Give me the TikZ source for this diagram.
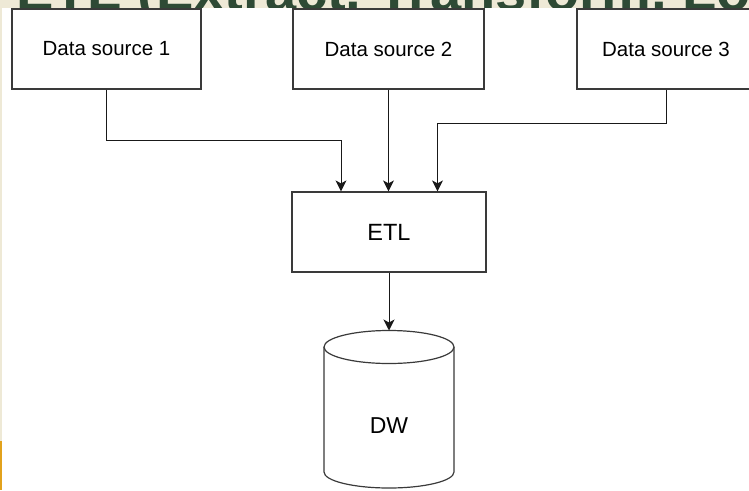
\documentclass[tikz,border=0pt]{standalone}
\usepackage{fontspec}
\setmainfont{Liberation Sans}
\usetikzlibrary{arrows.meta}
\definecolor{cream}{HTML}{EEE9D6}
\definecolor{titlegreen}{HTML}{2E4A35}
\definecolor{barorange}{HTML}{E2A21C}
\definecolor{boxline}{HTML}{3A3A3A}
\tikzset{
  box/.style={draw=boxline, line width=1.2pt, fill=white, minimum height=80pt, inner sep=0pt, font=\fontsize{20.5}{24}\selectfont},
  arr/.style={draw=black!90, line width=1pt, -{Stealth[length=11pt,width=11pt,inset=3pt]}},
}
\begin{document}
\begin{tikzpicture}[x=1pt,y=-1pt]
\useasboundingbox (0,0) rectangle (749,490);
% slide background and partly hidden title
\fill[cream] (0,0) rectangle (749,490);
\node[anchor=base west, inner sep=0pt, text=titlegreen, font=\bfseries\fontsize{56}{60}\selectfont] (title) at (16,10.5) {ETL (Extract, Transform, Load)};
\fill[white] (2,8) rectangle (749,490);
\fill[barorange] (0,441) rectangle (1.5,490);
% source boxes
\node[box, minimum width=189pt] (ds1) at (106.5,49) {Data source 1};
\node[box, minimum width=191pt] (ds2) at (388.5,49) {Data source 2};
\node[box, minimum width=178pt] (ds3) at (666,49) {Data source 3};
% ETL box
\node[box, minimum width=194pt, font=\fontsize{23.5}{28}\selectfont] (etl) at (389,232) {ETL};
% DW cylinder
\draw[boxline, line width=1.2pt, fill=white]
  (324,347) -- (324,472) arc[start angle=180, end angle=0, x radius=65, y radius=16] -- (454,347);
\draw[boxline, line width=1.2pt, fill=white] (389,347) ellipse[x radius=65, y radius=16.5];
\node[inner sep=0pt, font=\fontsize{23}{28}\selectfont] (dw) at (389,426) {DW};
\coordinate (dwtop) at (389,330.5);
% connectors
\draw[arr] (ds1.south) -- ++(0,51) -| ([xshift=-48pt]etl.north);
\draw[arr] (ds2.south) -- ([xshift=-0.5pt]etl.north);
\draw[arr] (ds3.south) -- ++(0,34) -| ([xshift=48.5pt]etl.north);
\draw[arr] (etl.south) -- (dwtop);
\end{tikzpicture}
\end{document}
